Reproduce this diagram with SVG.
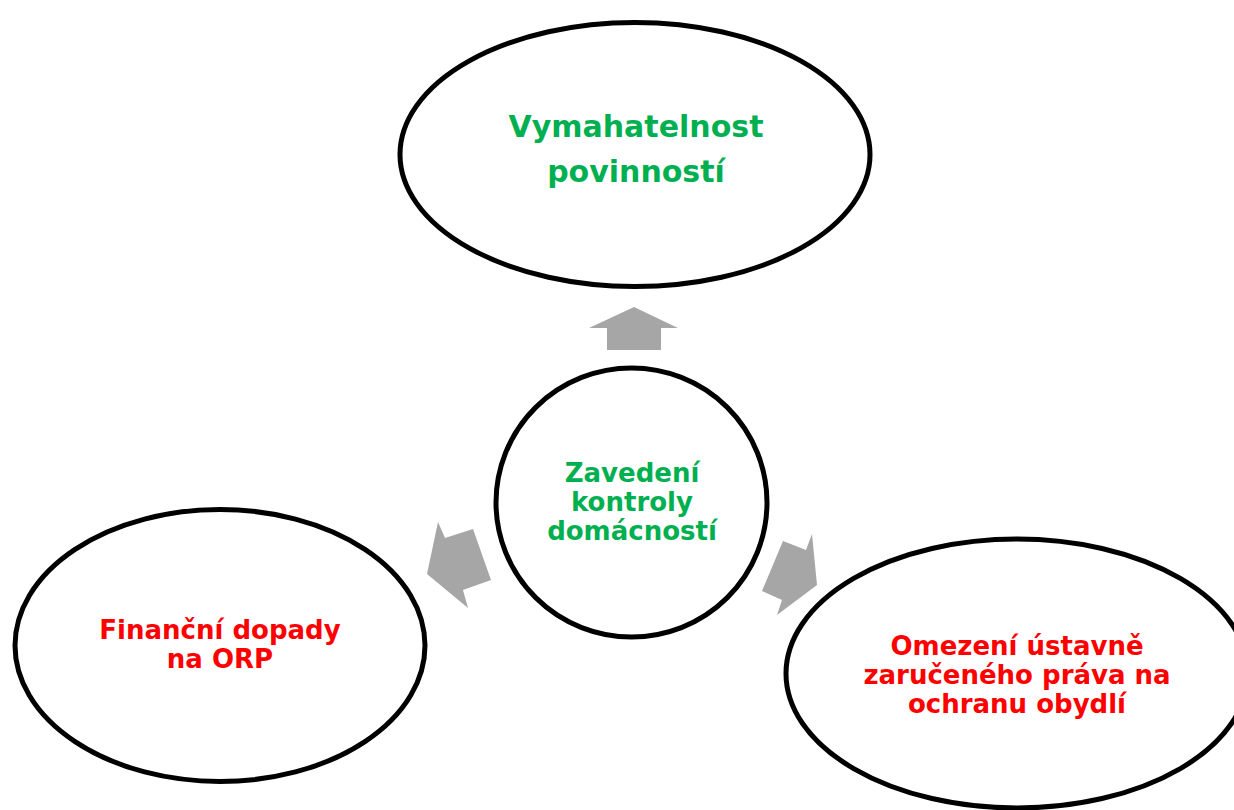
<svg xmlns="http://www.w3.org/2000/svg" width="1234" height="810" viewBox="0 0 1234 810">
<style>
.node{fill:#fff;stroke:#000;stroke-width:5}
.arrow{fill:#a6a6a6;stroke:none}
text{font-family:"DejaVu Sans","Liberation Sans",sans-serif;font-weight:bold;text-anchor:middle}
.g{fill:#00b050}
.r{fill:#ff0000}
</style>
<rect width="1234" height="810" fill="#fff"/>
<g id="connectors">
<polygon class="arrow" points="634,307 678,328 661,328 661,350 607,350 607,328 589,328"/>
<polygon class="arrow" points="438,522 445,538 473,529 491,580 463,590 468,608 427,574"/>
<polygon class="arrow" points="783,541 806,550 812,534 817,585 777,615 782,600 762,591"/>
</g>
<g id="node-top">
<ellipse class="node" cx="635" cy="154.5" rx="235" ry="132"/>
<text class="g" font-size="30" x="636" y="137">Vymahatelnost</text>
<text class="g" font-size="30" x="636" y="182">povinností</text>
</g>
<g id="node-center">
<ellipse class="node" cx="631.5" cy="502.5" rx="135.5" ry="134.5"/>
<text class="g" font-size="26" x="632" y="482">Zavedení</text>
<text class="g" font-size="26" x="632" y="511">kontroly</text>
<text class="g" font-size="26" x="632" y="540">domácností</text>
</g>
<g id="node-left">
<ellipse class="node" cx="220" cy="645.5" rx="205" ry="136"/>
<text class="r" font-size="26" x="220" y="639">Finanční dopady</text>
<text class="r" font-size="26" x="220" y="668">na ORP</text>
</g>
<g id="node-right">
<ellipse class="node" cx="1017" cy="673.5" rx="231" ry="134.5"/>
<text class="r" font-size="26" x="1017" y="655">Omezení ústavně</text>
<text class="r" font-size="26" x="1017" y="684">zaručeného práva na</text>
<text class="r" font-size="26" x="1017" y="713">ochranu obydlí</text>
</g>
</svg>
